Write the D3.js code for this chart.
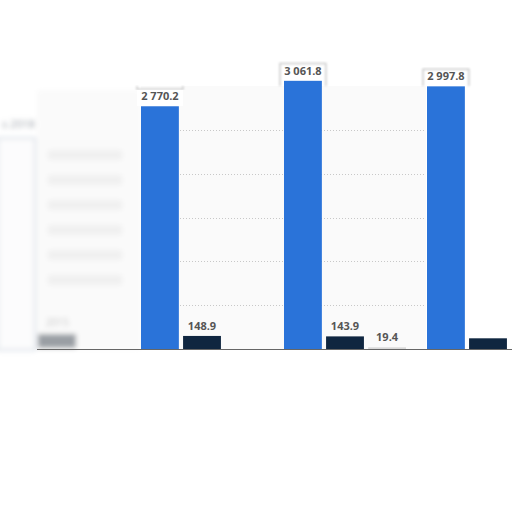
<!DOCTYPE html>
<html>
<head>
<meta charset="utf-8">
<script src="https://cdn.jsdelivr.net/npm/d3@7"></script>
<style>
  html, body { margin: 0; padding: 0; background: #fff; }
  svg { display: block; }
</style>
</head>
<body>
<svg width="512" height="512"></svg>
<script>
// chart data
var groups = ['2016', '2017', '2018']
var series = ['total', 'export', 'other']
var totalValues = [2770.2, 3061.8, 2997.8]
var exportValues = [148.9, 143.9, 122.0]
var otherValues = [null, 19.4, null]
var yTicks = [500, 1000, 1500, 2000, 2500]
var colors = ['#2a73d9', '#0f2640', '#d9d9d9']

var fmt = function (v) { return d3.format(',.1f')(v).replace(/,/g, ' ') }

var svg = d3.select('svg')
var defs = svg.append('defs')
defs.append('filter').attr('id', 'blur')
  .attr('x', '-20%').attr('y', '-20%').attr('width', '140%').attr('height', '140%')
  .append('feGaussianBlur').attr('stdDeviation', 2.5)
defs.append('filter').attr('id', 'shadow')
  .append('feGaussianBlur').attr('stdDeviation', 1.2)

var baseY = 349, topY = 86

var y = d3.scaleLinear().domain([0, 3000]).range([baseY, topY])
var x0 = d3.scaleBand().domain(groups).range([141, 141 + 3 * 143])
var x1 = d3.scaleBand().domain(series).range([0, 122]).paddingInner(0.1)

// blurred side panel on the left
var side = svg.append('g').attr('filter', 'url(#blur)')
side.append('rect').attr('x', -2).attr('y', 138).attr('width', 37).attr('height', 212)
  .attr('fill', '#fcfcfd').attr('stroke', '#cdd6e0').attr('stroke-width', 1.5)
side.append('text').attr('x', 2).attr('y', 128).attr('font-family', 'Open Sans')
  .attr('font-size', 11).attr('fill', '#9aa0a8').text('s 2018')
side.append('rect').attr('x', 37).attr('y', 90).attr('width', 104).attr('height', 260)
  .attr('fill', '#fafafa')
;[150, 175, 200, 225, 250, 275].forEach(function (yy) {
  side.append('rect').attr('x', 48).attr('y', yy).attr('width', 74).attr('height', 10)
    .attr('fill', '#f0f0f0')
})
side.append('text').attr('x', 46).attr('y', 326).attr('font-family', 'Open Sans')
  .attr('font-size', 10).attr('fill', '#c0c0c0').text('2015')
side.append('rect').attr('x', 38).attr('y', 334).attr('width', 38).attr('height', 14)
  .attr('fill', '#9a9fa4')

// plot panel
svg.append('rect').attr('x', 141).attr('y', topY).attr('width', 285).attr('height', baseY - topY)
  .attr('fill', '#fafafa')
svg.append('line').attr('x1', 141).attr('x2', 426).attr('y1', topY).attr('y2', topY)
  .attr('stroke', '#bbb').attr('stroke-width', 2).attr('filter', 'url(#shadow)')

svg.append('g').selectAll('line').data(yTicks).enter().append('line')
  .attr('x1', 141).attr('x2', 426)
  .attr('y1', function (d) { return Math.round(y(d)) + 0.5 })
  .attr('y2', function (d) { return Math.round(y(d)) + 0.5 })
  .attr('stroke', '#c8c8c8').attr('stroke-dasharray', '1,2')

// bars
var rows = groups.map(function (g, i) {
  return { group: g, values: [totalValues[i], exportValues[i], otherValues[i]] }
})

var gBars = svg.append('g').selectAll('g').data(rows).enter().append('g')
  .attr('transform', function (d) { return 'translate(' + x0(d.group) + ',0)' })

var cells = gBars.selectAll('g').data(function (d) {
  return d.values.map(function (v, j) { return { group: d.group, key: series[j], value: v, j: j } })
    .filter(function (c) { return c.value != null })
}).enter().append('g')

cells.append('rect')
  .attr('x', function (d) { return x1(d.key) })
  .attr('width', x1.bandwidth())
  .attr('y', function (d) { return y(d.value) })
  .attr('height', function (d) { return baseY - y(d.value) })
  .attr('fill', function (d) { return colors[d.j] })

// last export label is cut off in the original
var labels = cells.filter(function (d) { return !(d.group === '2018' && d.j === 1) })

labels.filter(function (d) { return d.j === 0 }).append('rect')
  .attr('x', function (d) { return x1(d.key) - 4 })
  .attr('y', function (d) { return y(d.value) - 17 })
  .attr('width', x1.bandwidth() + 8).attr('height', 17)
  .attr('fill', '#fff')
labels.filter(function (d) { return d.j === 0 }).append('path')
  .attr('d', function (d) {
    var l = x1(d.key) - 4, r = l + x1.bandwidth() + 8, t = y(d.value) - 17
    return 'M' + l + ',' + topY + 'V' + t + 'H' + r + 'V' + topY
  })
  .attr('fill', 'none').attr('stroke', '#ccc').attr('stroke-width', 1.5)
  .attr('filter', 'url(#shadow)')

labels.append('text')
  .attr('x', function (d) { return x1(d.key) + x1.bandwidth() / 2 })
  .attr('y', function (d) { return y(d.value) - 6 })
  .attr('text-anchor', 'middle')
  .attr('font-family', 'Open Sans, sans-serif').attr('font-weight', 700)
  .attr('font-size', 11).attr('fill', '#555')
  .text(function (d) { return fmt(d.value) })

// baseline
svg.append('line').attr('x1', 37).attr('x2', 512).attr('y1', baseY + 2).attr('y2', baseY + 2)
  .attr('stroke', '#bbb').attr('stroke-width', 2).attr('filter', 'url(#shadow)')
svg.append('line').attr('x1', 37).attr('x2', 512).attr('y1', baseY + 0.5).attr('y2', baseY + 0.5)
  .attr('stroke', '#666').attr('stroke-width', 1)
</script>
</body>
</html>
